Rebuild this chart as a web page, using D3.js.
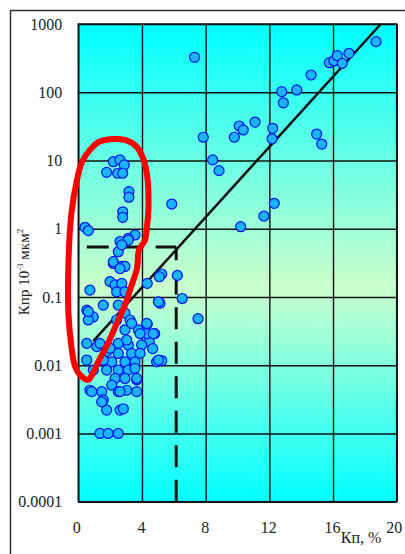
<!DOCTYPE html>
<html>
<head>
<meta charset="utf-8">
<script src="https://cdn.jsdelivr.net/npm/d3@7"></script>
<style>
  html, body { margin: 0; padding: 0; background: #fff; }
  svg { display: block; }
  svg text { font-family: "Liberation Serif", "DejaVu Serif", serif; }
</style>
</head>
<body>
<svg id="chart" width="405" height="554"></svg>
<script>
// porosity Kp, % and permeability Kpr (10^-3 um^2)
const porosity = [
  7.3, 7.85, 8.44, 8.84, 9.8, 10.11, 10.36, 11.1, 12.21, 12.17, 12.78, 12.88, 13.72, 14.62, 14.97, 15.29,
  15.77, 16.06, 16.27, 16.58, 17.0, 18.7,
  5.87, 12.31, 11.66, 10.2, 5.24, 5.09, 6.22, 4.33, 5.13, 6.53, 7.52, 4.33, 4.08, 4.8, 4.46, 4.67, 4.92, 5.24,
  2.2, 2.62, 2.89, 1.78, 2.47, 2.79, 3.18, 3.18, 2.79, 2.79, 0.42, 0.63, 3.56, 3.14,
  2.62, 3.14, 2.51, 2.73, 2.2, 2.73, 2.93, 1.99, 2.31, 2.73, 2.41, 2.93, 0.73, 1.57, 0.53, 0.94, 2.51, 2.93,
  5.03, 3.25, 2.2, 2.62,
  0.63, 0.53, 1.16, 0.53, 0.94, 2.93, 3.77, 4.3, 2.51, 3.14, 3.98, 1.78, 2.51, 3.35, 3.88, 2.1, 2.93, 3.56,
  1.78, 2.51, 3.14, 3.56, 2.31, 2.93, 3.67, 0.73, 1.47, 2.1, 2.51, 3.04, 3.67, 1.57, 1.78, 2.62, 2.83,
  1.36, 1.88, 2.51,
  2.41, 3.35, 1.99, 3.04, 3.88, 1.57, 1.36, 4.3, 4.71, 5.03, 3.67, 1.47, 0.84, 2.62, 0.63
];
const permeability = [
  325, 21.9, 10.2, 7.1, 21.9, 32, 28, 36.6, 29.6, 20.8, 102, 70, 108, 179, 24.4, 17.4,
  271, 290, 343, 265, 372, 551,
  2.3, 2.36, 1.53, 1.07, 0.217, 0.198, 0.207, 0.158, 0.081, 0.095, 0.048, 0.040, 0.031, 0.029, 0.0219, 0.0175, 0.0112, 0.0117,
  9.6, 10.2, 8.6, 6.7, 6.5, 6.5, 3.5, 2.9, 1.77, 1.47, 1.05, 0.94, 0.81, 0.72,
  0.65, 0.68, 0.46, 0.58, 0.31, 0.28, 0.28, 0.168, 0.150, 0.158, 0.119, 0.119, 0.126, 0.076, 0.064, 0.051, 0.076, 0.058,
  0.085, 0.046, 0.33, 0.26,
  0.046, 0.0209, 0.0187, 0.0119, 0.0085, 0.033, 0.033, 0.029, 0.0209, 0.0198, 0.0198, 0.0158, 0.0149, 0.0149, 0.0149, 0.0112, 0.0112, 0.0112,
  0.0085, 0.0085, 0.0085, 0.009, 0.0064, 0.0064, 0.0061, 0.0043, 0.0041, 0.0051, 0.0041, 0.0043, 0.0041, 0.0031, 0.0022, 0.0022, 0.0023,
  0.001, 0.001, 0.001,
  0.046, 0.041, 0.0177, 0.0234, 0.029, 0.0119, 0.0209, 0.041, 0.029, 0.0119, 0.0064, 0.0029, 0.0041, 0.0041, 0.061
];

// trend line end points
const trendX = [0.94, 19];
const trendY = [0.0225, 1000];

// cut-off lines
const cutoffStartX = 0.53;
const cutoffX = 6.15;
const cutoffY = 0.54;

// hand drawn red outline
const outlineX = [0.61, 0.11, -0.21, -0.43, -0.62, -0.62, -0.43, -0.11, 0.23, 0.73, 1.30, 2.12, 2.93, 3.62,
  4.06, 4.32, 4.41, 4.32, 4.19, 3.81, 3.69, 3.31, 2.93, 2.43, 1.87, 1.24, 0.86];
const outlineY = [0.0061, 0.0072, 0.0097, 0.0185, 0.058, 0.315, 1.70, 4.84, 9.5, 14.3, 18.7, 20.6, 20.0, 16.3,
  10.9, 6.1, 2.23, 1.10, 0.68, 0.49, 0.265, 0.140, 0.076, 0.0415, 0.0211, 0.0111, 0.0072];

const xTicks = [0, 4, 8, 12, 16, 20];
const yTicks = [0.0001, 0.001, 0.01, 0.1, 1, 10, 100, 1000];
const yTickLabels = ['0.0001', '0.001', '0.01', '0.1', '1', '10', '100', '1000'];

const plot = { left: 78.3, right: 396.7, top: 24, bottom: 501.7 };
const serif = '"Liberation Serif", "DejaVu Serif", serif';

const svg = d3.select('#chart');

const x = d3.scaleLinear().domain([0, 20]).range([plot.left, plot.right]);
const y = d3.scaleLog().domain([0.0001, 1000]).range([plot.bottom, plot.top]);

// outer frame
svg.append('path')
  .attr('d', 'M10.5,554 V10.5 H405')
  .attr('fill', 'none')
  .attr('stroke', '#333')
  .attr('stroke-width', 1.5);

const grad = svg.append('defs').append('linearGradient')
  .attr('id', 'bg')
  .attr('x1', 0).attr('y1', 0).attr('x2', 0).attr('y2', 1);
grad.append('stop').attr('offset', '0%').attr('stop-color', '#00ffff');
grad.append('stop').attr('offset', '55%').attr('stop-color', '#ccffcc');
grad.append('stop').attr('offset', '100%').attr('stop-color', '#00ffff');

svg.append('rect')
  .attr('x', plot.left)
  .attr('y', plot.top)
  .attr('width', plot.right - plot.left)
  .attr('height', plot.bottom - plot.top)
  .attr('fill', 'url(#bg)');

// grid
svg.append('g')
  .attr('class', 'grid-x')
  .attr('transform', `translate(0,${plot.bottom})`)
  .call(d3.axisBottom(x).tickValues(xTicks).tickSize(-(plot.bottom - plot.top)).tickFormat(''))
  .call(g => g.select('.domain').remove())
  .call(g => g.selectAll('line').attr('stroke', '#111').attr('stroke-width', 1.4));

svg.append('g')
  .attr('class', 'grid-y')
  .attr('transform', `translate(${plot.left},0)`)
  .call(d3.axisLeft(y).tickValues(yTicks).tickSize(-(plot.right - plot.left)).tickFormat(''))
  .call(g => g.select('.domain').remove())
  .call(g => g.selectAll('line').attr('stroke', '#111').attr('stroke-width', 1.4));

svg.append('rect')
  .attr('x', plot.left)
  .attr('y', plot.top)
  .attr('width', plot.right - plot.left)
  .attr('height', plot.bottom - plot.top)
  .attr('fill', 'none')
  .attr('stroke', '#111')
  .attr('stroke-width', 1.5);

// tick labels
svg.append('g')
  .attr('transform', `translate(${plot.left},0)`)
  .call(d3.axisLeft(y).tickValues(yTicks).tickSize(0).tickPadding(16)
    .tickFormat((d, i) => yTickLabels[i]))
  .attr('font-family', serif)
  .attr('font-size', 16)
  .call(g => g.select('.domain').remove())
  .call(g => g.selectAll('text').style('font-family', serif).attr('fill', '#222'));

svg.append('g')
  .attr('transform', `translate(0,${plot.bottom})`)
  .call(d3.axisBottom(x).tickValues(xTicks).tickSize(0).tickPadding(20))
  .attr('font-family', serif)
  .attr('font-size', 16)
  .call(g => g.select('.domain').remove())
  .call(g => g.selectAll('text')
    .style('font-family', serif)
    .attr('fill', '#222')
    .attr('dx', d => d === 20 ? -3 : (d === 0 ? -2 : -1)));

// axis titles
svg.append('text')
  .attr('x', 361)
  .attr('y', 543)
  .attr('text-anchor', 'middle')
  .attr('font-size', 16)
  .attr('fill', '#222')
  .text('Кп, %');

const yTitle = svg.append('text')
  .attr('transform', 'translate(28.5,272) rotate(-90)')
  .attr('text-anchor', 'middle')
  .attr('font-size', 15)
  .attr('fill', '#222');
yTitle.append('tspan').text('Кпр 10');
yTitle.append('tspan').attr('font-size', 9).attr('dy', -6).text('-3');
yTitle.append('tspan').attr('dy', 6).text(' мкм');
yTitle.append('tspan').attr('font-size', 9).attr('dy', -6).text('2');

// dashed cut-off lines
svg.append('line')
  .attr('x1', x(cutoffStartX)).attr('y1', y(cutoffY))
  .attr('x2', x(cutoffX)).attr('y2', y(cutoffY))
  .attr('stroke', '#111')
  .attr('stroke-width', 3)
  .attr('stroke-dasharray', '22,12.5');

svg.append('line')
  .attr('x1', x(cutoffX)).attr('y1', y(0.0001))
  .attr('x2', x(cutoffX)).attr('y2', y(cutoffY))
  .attr('stroke', '#111')
  .attr('stroke-width', 3)
  .attr('stroke-dasharray', '22,12.5');

// trend line
svg.append('path')
  .attr('d', d3.line().x(d => x(d[0])).y(d => y(d[1]))(d3.zip(trendX, trendY)))
  .attr('fill', 'none')
  .attr('stroke', '#111')
  .attr('stroke-width', 2.5);

// points
svg.append('g')
  .selectAll('circle')
  .data(d3.zip(porosity, permeability))
  .join('circle')
  .attr('cx', d => x(d[0]))
  .attr('cy', d => y(d[1]))
  .attr('r', 5)
  .attr('fill', '#18b4ff')
  .attr('stroke', '#0010f0')
  .attr('stroke-width', 1.2);

// red outline on top
svg.append('path')
  .attr('d', d3.line().curve(d3.curveCatmullRomClosed.alpha(0.5))
    .x(d => x(d[0])).y(d => y(d[1]))(d3.zip(outlineX, outlineY)))
  .attr('fill', 'none')
  .attr('stroke', '#ff0000')
  .attr('stroke-width', 6)
  .attr('stroke-linejoin', 'round');
</script>
</body>
</html>
